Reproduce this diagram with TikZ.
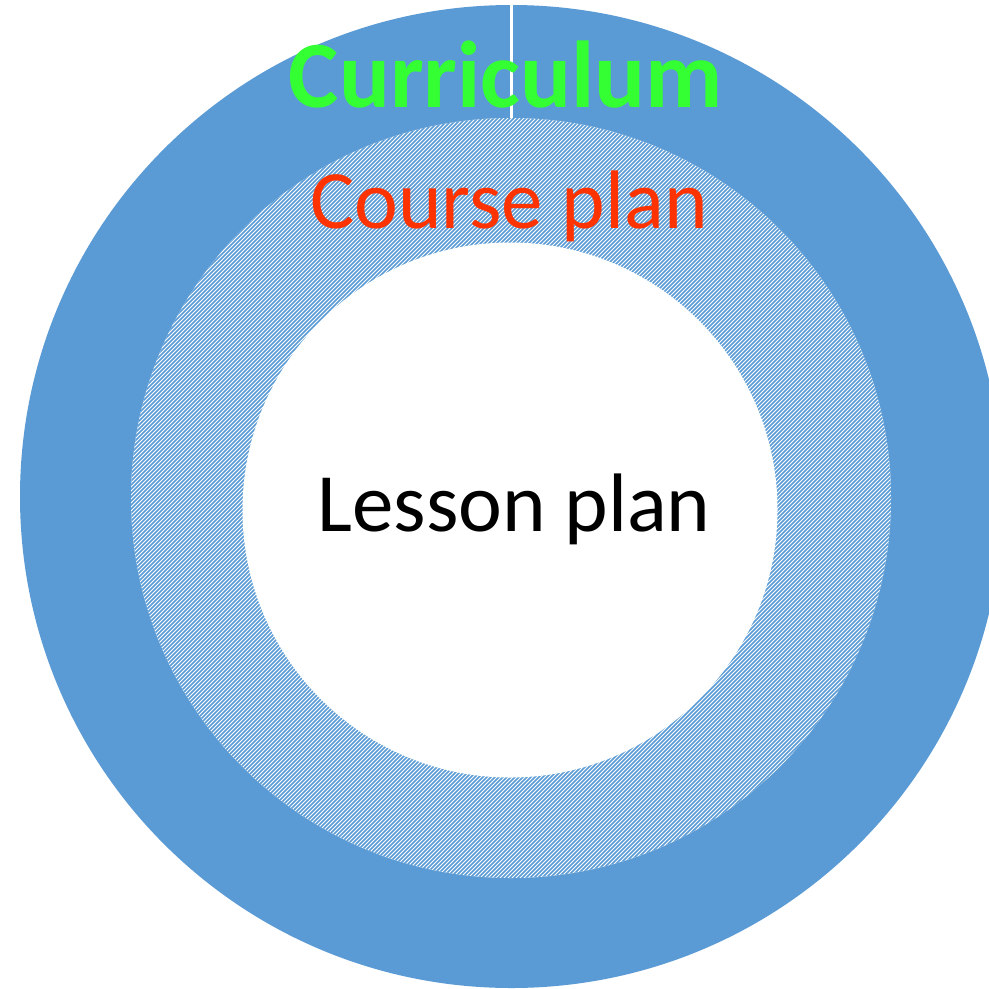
\documentclass[tikz,border=0pt]{standalone}
\usepackage{fontspec}
\setmainfont{Carlito}
\definecolor{ringblue}{HTML}{5B9BD5}
\definecolor{curgreen}{HTML}{33FF33}
\definecolor{coursered}{HTML}{FF3300}
\tikzset{
  lbl/.style={anchor=base, inner sep=0pt},
  stripe/.style={draw=ringblue, line width=1.45pt},
}
\begin{document}
\begin{tikzpicture}[x=1pt,y=-1pt]
\useasboundingbox (0,0) rectangle (989,989);
\clip (0,0) rectangle (989,989);
\fill[white] (0,0) rectangle (989,989);
% outer ring
\fill[ringblue] (511.5,496.5) circle[radius=491.5];
% gap line
\fill[white] (510.2,0) rectangle (513.2,130);
% middle hatched ring
\fill[white] (511,498) circle[radius=380];
\begin{scope}
  \clip (511,498) circle[radius=380];
  \foreach \c in {240,244,...,1780} {
    \draw[stripe] ({\c-890},890) -- ({\c-110},110);
  }
\end{scope}
% inner hole
\fill[white] (510,510) circle[radius=267.5];
% labels
\node[lbl, text=curgreen, font=\fontsize{95}{95}\selectfont\bfseries] (cur) at (506,107) {Curriculum};
\node[lbl, text=coursered, font=\fontsize{83}{83}\selectfont] (course) at (509,228) {Course plan};
\node[lbl, text=black, font=\fontsize{83}{83}\selectfont] (lesson) at (514,531) {Lesson plan};
\end{tikzpicture}
\end{document}
